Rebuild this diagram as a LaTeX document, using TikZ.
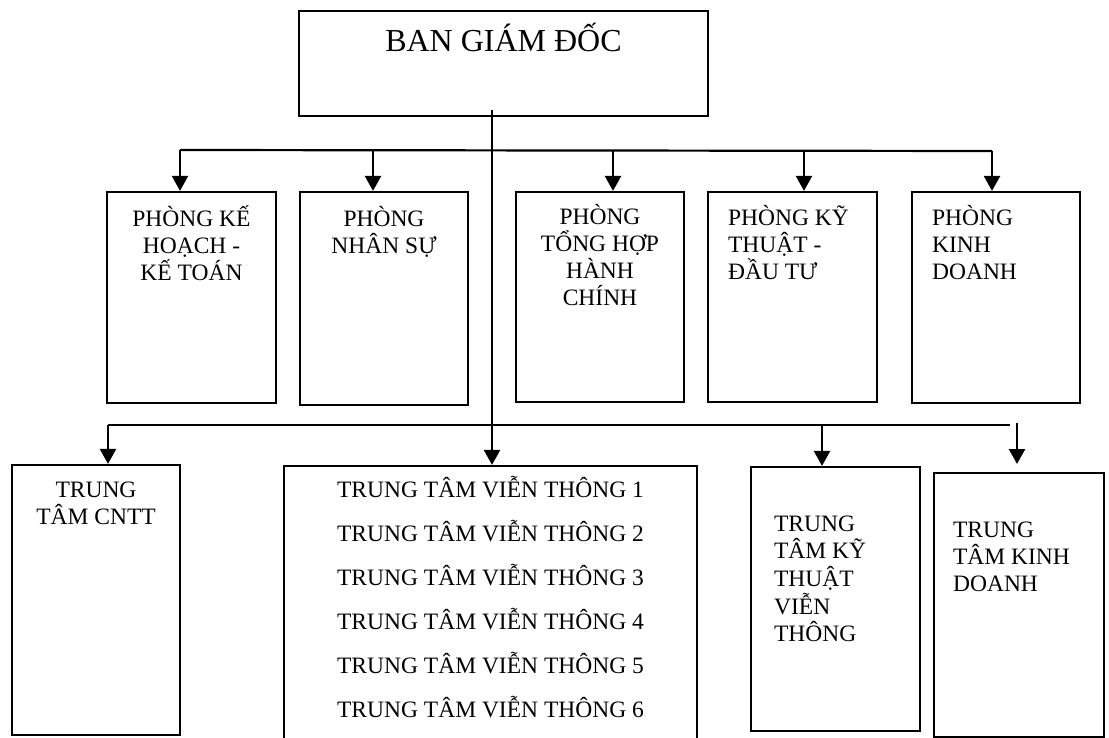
\documentclass[tikz,border=0pt]{standalone}
\usepackage{fontspec}
\setmainfont{Liberation Serif}
\usetikzlibrary{positioning,arrows.meta}
\newcommand{\capline}{\rule{0pt}{24pt}}

\begin{document}
\begin{tikzpicture}[x=1pt, y=-1pt,
	box/.style={draw, line width=2.2pt, rectangle, inner sep=0pt},
	txt/.style={inner sep=0pt, align=center, font=\fontsize{23.5}{27}\selectfont},
	txtl/.style={txt, align=left},
	arr/.style={line width=2.4pt, -{Triangle[length=15pt, width=16pt]}},
	bus/.style={line width=2.2pt}]
	\useasboundingbox (0,0) rectangle (1109,738);

	% ban giam doc
	\node[box, minimum width=409pt, minimum height=105pt] (ban) at (503.5,63.5) {};
	\node[txt, font=\fontsize{32}{36}\selectfont, below=9pt of ban.north] (banT) {\rule{0pt}{32pt}BAN GIÁM ĐỐC};

	% cac phong
	\node[box, minimum width=169pt, minimum height=211pt] (kh) at (191.5,297.5) {};
	\node[box, minimum width=168pt, minimum height=213pt] (ns) at (384,298.5) {};
	\node[box, minimum width=168pt, minimum height=210pt] (th) at (600,297) {};
	\node[box, minimum width=169pt, minimum height=210pt] (kt) at (792.5,297) {};
	\node[box, minimum width=168pt, minimum height=211pt] (kd) at (996,297.5) {};

	\node[txt, below=11pt of kh.north] (khT) {\capline PHÒNG KẾ\\HOẠCH -\\KẾ TOÁN};
	\node[txt, below=11pt of ns.north] (nsT) {\capline PHÒNG\\NHÂN SỰ};
	\node[txt, below=9pt of th.north] (thT) {\capline PHÒNG\\TỔNG HỢP\\HÀNH\\CHÍNH};
	\node[txtl, below right=10pt and 21pt of kt.north west] (ktT) {\capline PHÒNG KỸ\\THUẬT -\\ĐẦU TƯ};
	\node[txtl, below right=10pt and 21pt of kd.north west] (kdT) {\capline PHÒNG\\KINH\\DOANH};

	% cac trung tam
	\node[box, minimum width=168pt, minimum height=270pt] (cntt) at (96,600) {};
	\node[box, minimum width=413pt, minimum height=284pt] (vt) at (490.5,608) {};
	\node[box, minimum width=169pt, minimum height=264pt] (ktvt) at (835.5,599) {};
	\node[box, minimum width=170pt, minimum height=264pt] (kdtt) at (1019,605) {};

	\node[txt, below=9pt of cntt.north] (cnttT) {\capline TRUNG\\TÂM CNTT};
	\node[txt, font=\fontsize{23.5}{44}\selectfont, below=8pt of vt.north] (vtT)
		{\capline TRUNG TÂM VIỄN THÔNG 1\\TRUNG TÂM VIỄN THÔNG 2\\TRUNG TÂM VIỄN THÔNG 3\\TRUNG TÂM VIỄN THÔNG 4\\TRUNG TÂM VIỄN THÔNG 5\\TRUNG TÂM VIỄN THÔNG 6};
	\node[txtl, font=\fontsize{23.5}{27.7}\selectfont, below right=41pt and 24pt of ktvt.north west] (ktvtT) {\capline TRUNG\\TÂM KỸ\\THUẬT\\VIỄN\\THÔNG};
	\node[txtl, below right=41pt and 20pt of kdtt.north west] (kdttT) {\capline TRUNG\\TÂM KINH\\DOANH};

	% duong noi
	\coordinate (trunk) at (492,110);
	\draw[arr] (trunk) -- (trunk |- vt.north);

	\coordinate (p1) at (180,150);
	\coordinate (p2) at (373,150);
	\coordinate (p3) at (613,150);
	\coordinate (p4) at (804,150);
	\coordinate (p5) at (992,151);
	\draw[bus] (p1) -- (p5);
	\foreach \p/\b in {p1/kh, p2/ns, p3/th, p4/kt, p5/kd}
		\draw[arr] (\p) -- (\p |- \b.north);

	\coordinate (q1) at (108,425);
	\coordinate (q3) at (822,425);
	\coordinate (q4) at (1010,425);
	\coordinate (q5) at (1017,423);
	\coordinate (q5e) at (1017,464);
	\draw[bus] (q1) -- (q4);
	\foreach \p/\b in {q1/cntt, q3/ktvt}
		\draw[arr] (\p) -- (\p |- \b.north);
	\draw[arr] (q5) -- (q5e);
\end{tikzpicture}
\end{document}
